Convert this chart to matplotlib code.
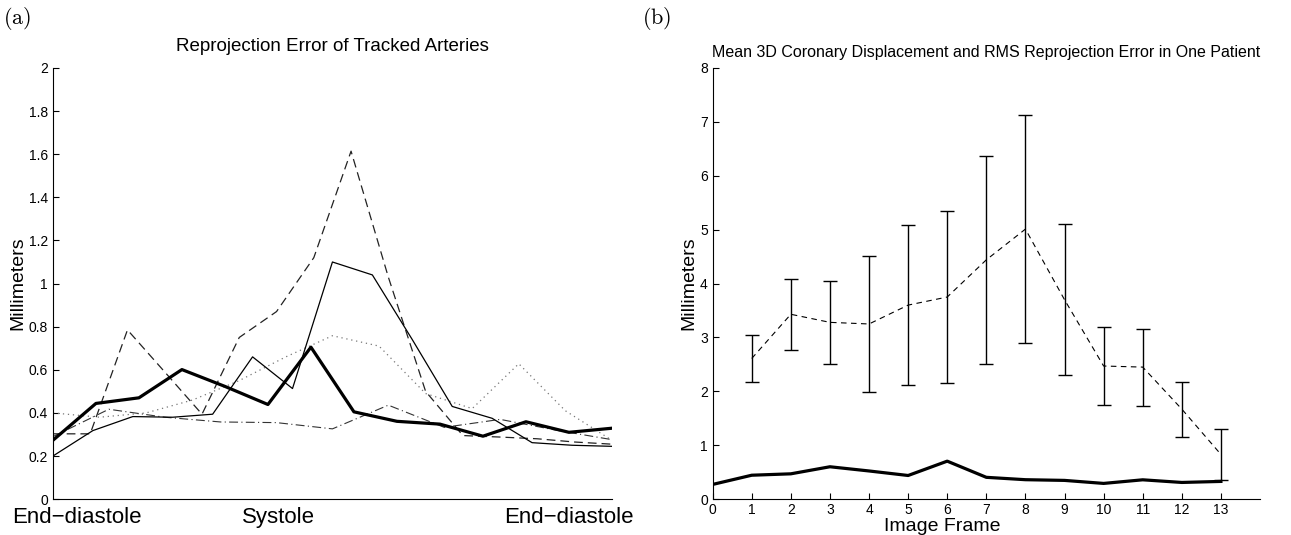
import numpy as np
import matplotlib
matplotlib.use('Agg')
from matplotlib import pyplot as plt

plt.rcParams['font.family'] = ['Liberation Sans', 'DejaVu Sans']
plt.rcParams['mathtext.fontset'] = 'cm'

# panel (a): reprojection error per artery, each one has its own number of frames
# spread over one heart cycle
thick_err = [0.273, 0.444, 0.470, 0.601, 0.523, 0.439, 0.705, 0.405, 0.361, 0.348, 0.292, 0.359, 0.310, 0.329]
thin_err = [0.20, 0.318, 0.383, 0.380, 0.394, 0.66, 0.513, 1.10, 1.04, 0.74, 0.43, 0.375, 0.262, 0.25, 0.245]
dashed_err = [0.303, 0.303, 0.785, 0.59, 0.394, 0.75, 0.87, 1.12, 1.614, 1.03, 0.50, 0.295, 0.288, 0.28, 0.265, 0.255]
dashdot_err = [0.29, 0.417, 0.38, 0.358, 0.355, 0.326, 0.436, 0.333, 0.37, 0.32, 0.276]
dotted_err = [0.40, 0.38, 0.40, 0.46, 0.55, 0.66, 0.758, 0.71, 0.49, 0.42, 0.628, 0.41, 0.273]
phase_labels = ['End\u2212diastole', 'Systole', 'End\u2212diastole']
phase_pos = [0.55, 5.25, 12.0]

# panel (b): mean 3D displacement (with std) and RMS reprojection error
frames = list(range(14))
rms_err = [0.273, 0.444, 0.470, 0.601, 0.523, 0.439, 0.705, 0.405, 0.361, 0.348, 0.292, 0.359, 0.310, 0.329]
disp_frames = list(range(1, 14))
disp_mean = [2.61, 3.43, 3.28, 3.25, 3.60, 3.75, 4.44, 5.01, 3.70, 2.47, 2.45, 1.67, 0.83]
disp_std = [0.44, 0.66, 0.775, 1.26, 1.485, 1.59, 1.93, 2.115, 1.40, 0.72, 0.715, 0.51, 0.475]


def cycle_x(vals):
    return np.linspace(0, 13, len(vals))


def style_axes(ax):
    ax.spines['top'].set_visible(False)
    ax.spines['right'].set_visible(False)
    ax.tick_params(direction='in', length=4, width=0.8, labelsize=10)


fig = plt.figure(figsize=(12.91, 5.35), dpi=100)

# ---- (a)
ax1 = fig.add_axes([0.041, 0.067, 0.433, 0.806])
style_axes(ax1)
ax1.plot(cycle_x(dotted_err), dotted_err, color='#777777', ls=(0, (1, 3)), lw=0.9)
ax1.plot(cycle_x(dashdot_err), dashdot_err, color='#333333', ls=(0, (8, 3, 1, 3)), lw=0.8)
ax1.plot(cycle_x(dashed_err), dashed_err, color='#222222', ls=(0, (7, 4)), lw=0.9)
ax1.plot(cycle_x(thin_err), thin_err, color='black', lw=0.9)
ax1.plot(cycle_x(thick_err), thick_err, color='black', lw=2.3)
ax1.set_xlim(0, 13)
ax1.set_ylim(0, 2)
ax1.set_yticks(np.arange(0, 2.01, 0.2))
ax1.set_yticklabels(['0'] + ['%g' % v for v in np.arange(0.2, 2.01, 0.2)])
ax1.set_xticks(phase_pos)
ax1.set_xticklabels(phase_labels, fontsize=16)
ax1.tick_params(axis='x', length=0, pad=6)
ax1.set_ylabel('Millimeters', fontsize=14, labelpad=2)
ax1.set_title('Reprojection Error of Tracked Arteries', fontsize=13.5, pad=12)
fig.text(0.002, 0.965, r'$\mathrm{(a)}$', fontsize=16, va='center')

# ---- (b)
ax2 = fig.add_axes([0.552, 0.067, 0.424, 0.806])
style_axes(ax2)
ax2.errorbar(disp_frames, disp_mean, yerr=disp_std, color='black', ls=(0, (5, 4)),
             lw=0.8, elinewidth=1.0, capsize=5, capthick=1.0)
ax2.plot(frames, rms_err, color='black', lw=2.3)
ax2.set_xlim(0, 14)
ax2.set_ylim(0, 8)
ax2.set_xticks(frames)
ax2.set_yticks(range(9))
ax2.tick_params(axis='x', pad=3)
ax2.set_xlabel('Image Frame', fontsize=14, labelpad=0)
ax2.xaxis.set_label_coords(0.419, -0.043)
ax2.set_ylabel('Millimeters', fontsize=14, labelpad=2)
ax2.set_title('Mean 3D Coronary Displacement and RMS Reprojection Error in One Patient',
              fontsize=11.5, pad=8)
fig.text(0.497, 0.965, r'$\mathrm{(b)}$', fontsize=16, va='center')

fig.savefig('out.png', dpi=100)
